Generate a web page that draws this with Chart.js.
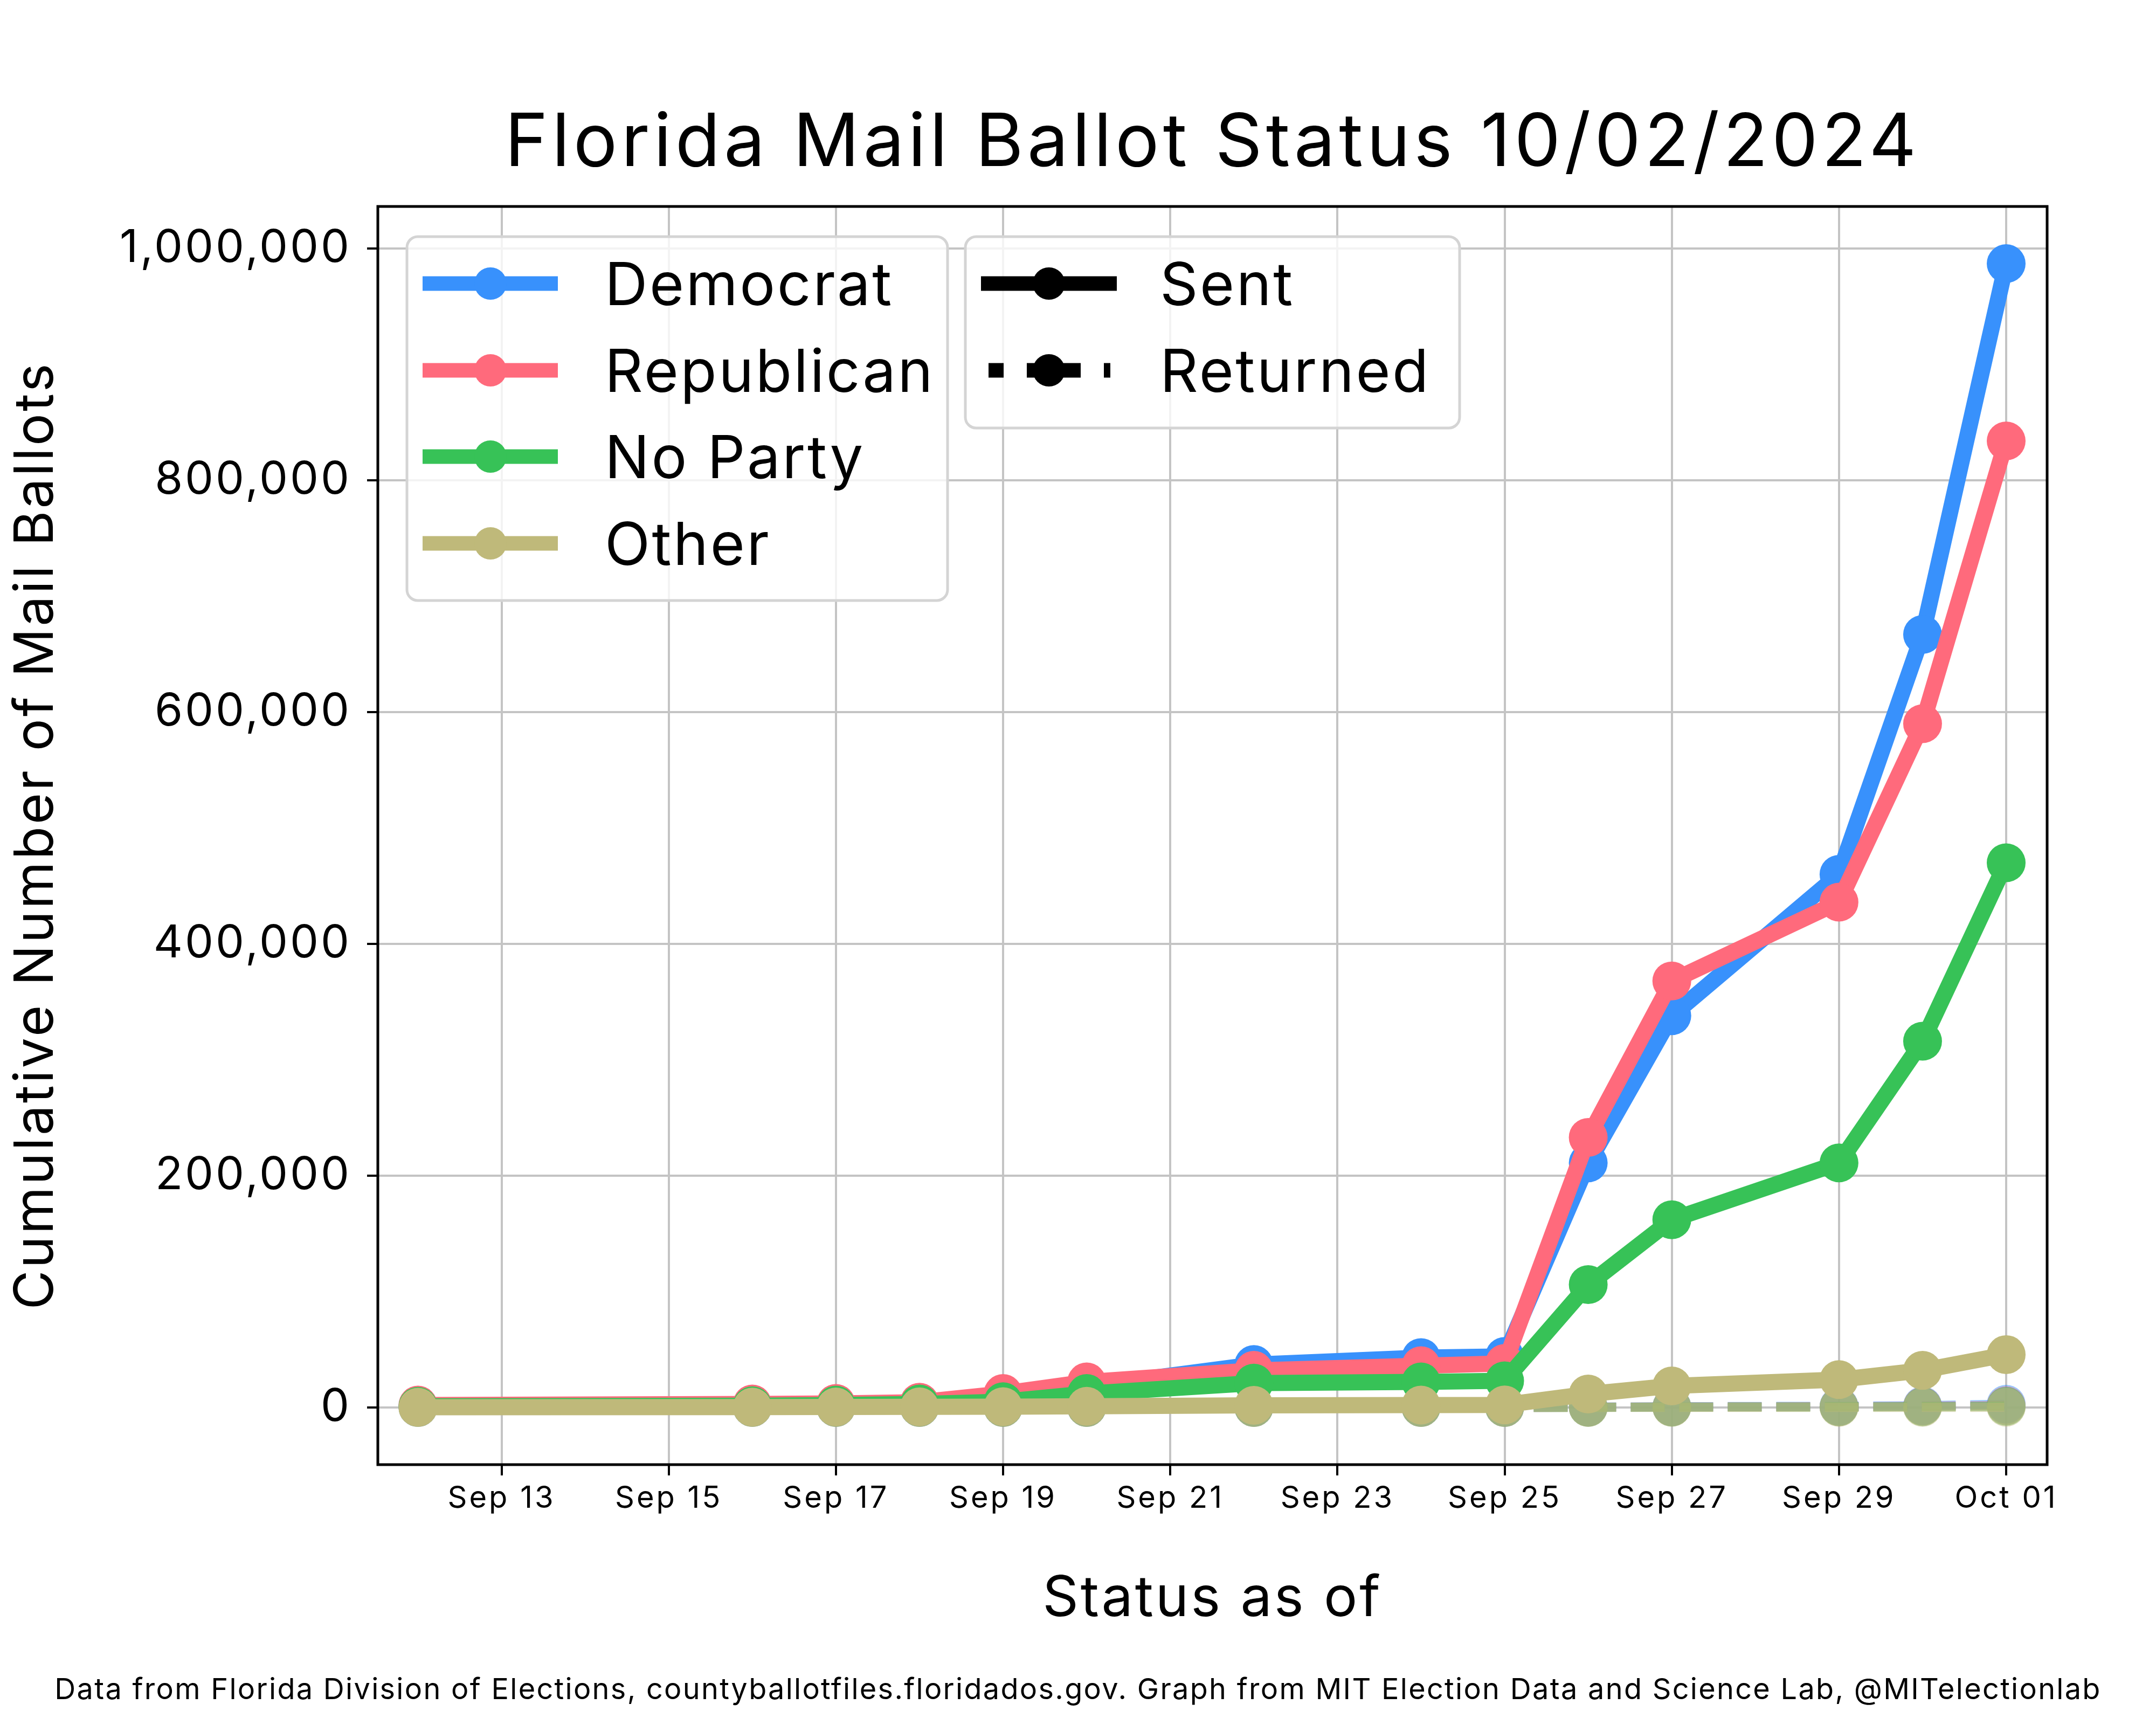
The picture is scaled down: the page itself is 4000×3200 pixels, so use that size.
<!DOCTYPE html>
<html>
<head>
<meta charset="utf-8">
<script src="https://cdn.jsdelivr.net/npm/chart.js@4.4.1/dist/chart.umd.min.js"></script>
<style>
  html, body { margin: 0; padding: 0; background: #fff; }
  #wrap { width: 4000px; height: 3200px; }
</style>
</head>
<body>
<div id="wrap"><canvas id="ballotChart" width="4000" height="3200"></canvas></div>
<script>
// status dates (one point per file date)
const dates = ['2024-09-12', '2024-09-16', '2024-09-17', '2024-09-18', '2024-09-19', '2024-09-20',
               '2024-09-22', '2024-09-24', '2024-09-25', '2024-09-26', '2024-09-27', '2024-09-29',
               '2024-09-30', '2024-10-01'];

// cumulative ballots sent
const sentDem   = [1500, 2500, 3000, 4000, 10000, 18000, 37000, 43000, 44000, 211000, 338000, 460000, 667000, 987000];
const sentRep   = [2000, 3000, 3500, 4500, 12000, 22000, 32000, 36000, 38000, 233000, 368000, 436000, 590000, 834000];
const sentNpa   = [1000, 1500, 2000, 3000, 5000, 12000, 21000, 22000, 23000, 106000, 162000, 211000, 316000, 470000];
const sentOther = [200, 300, 400, 500, 700, 1000, 1800, 2000, 2200, 11600, 18600, 24000, 32000, 45600];

// cumulative ballots returned
const retDem   = [0, 0, 0, 0, 0, 0, 0, 0, 0, 300, 600, 1000, 1500, 2800];
const retRep   = [0, 0, 0, 0, 0, 0, 0, 0, 0, 200, 400, 700, 1000, 1600];
const retNpa   = [0, 0, 0, 0, 0, 0, 0, 0, 0, 100, 300, 500, 700, 1000];
const retOther = [0, 0, 0, 0, 0, 0, 0, 0, 0, 0, 50, 80, 100, 150];

const partyNames  = ['Democrat', 'Republican', 'No Party', 'Other'];
const partyColors = ['#3891fc', '#ff6a7c', '#37c257', '#bfb97a'];
const statusNames = ['Sent', 'Returned'];

const xTickDates  = ['2024-09-13', '2024-09-15', '2024-09-17', '2024-09-19', '2024-09-21',
                     '2024-09-23', '2024-09-25', '2024-09-27', '2024-09-29', '2024-10-01'];
const xTickLabels = ['Sep 13', 'Sep 15', 'Sep 17', 'Sep 19', 'Sep 21', 'Sep 23', 'Sep 25', 'Sep 27', 'Sep 29', 'Oct 01'];
const yTicks = [0, 200000, 400000, 600000, 800000, 1000000];

const chartTitle = 'Florida Mail Ballot Status 10/02/2024';
const xTitle = 'Status as of';
const yTitle = 'Cumulative Number of Mail Ballots';
const footer = 'Data from Florida Division of Elections, countyballotfiles.floridados.gov. Graph from MIT Election Data and Science Lab, @MITelectionlab';

const FONT = 'Inter';
const DAY = 86400000;
const ORIGIN = Date.UTC(2024, 8, 1);
const toDay = d => (Date.parse(d + 'T00:00:00Z') - ORIGIN) / DAY;

function withAlpha(hex, a) {
    const n = parseInt(hex.slice(1), 16);
    return `rgba(${(n >> 16) & 255}, ${(n >> 8) & 255}, ${n & 255}, ${a})`;
}

const sentSeries = [sentDem, sentRep, sentNpa, sentOther];
const retSeries = [retDem, retRep, retNpa, retOther];

const datasets = [];
partyNames.forEach((name, i) => {
    // returned: dashed, faded, under everything
    datasets.push({
        label: name + ' Returned',
        data: dates.map((d, j) => ({ x: toDay(d), y: retSeries[i][j] })),
        borderColor: withAlpha(partyColors[i], 0.5),
        backgroundColor: withAlpha(partyColors[i], 0.5),
        pointBackgroundColor: withAlpha(partyColors[i], 0.5),
        borderWidth: 17,
        borderDash: [63, 27],
        pointRadius: 36,
        pointBorderWidth: 0,
        tension: 0,
        order: 7 - i
    });
    datasets.push({
        label: name + ' Sent',
        data: dates.map((d, j) => ({ x: toDay(d), y: sentSeries[i][j] })),
        borderColor: partyColors[i],
        backgroundColor: partyColors[i],
        pointBackgroundColor: partyColors[i],
        borderWidth: 30,
        pointRadius: 36,
        pointBorderWidth: 0,
        tension: 0,
        order: 3 - i
    });
});

function legendBox(ctx, x, y, w, h) {
    ctx.save();
    ctx.beginPath();
    ctx.roundRect(x, y, w, h, 20);
    ctx.fillStyle = 'rgba(255,255,255,0.8)';
    ctx.fill();
    ctx.lineWidth = 5;
    ctx.strokeStyle = '#d4d4d4';
    ctx.stroke();
    ctx.restore();
}

function legendEntry(ctx, x0, x1, markerX, y, color, dashed, text, textX) {
    ctx.save();
    ctx.strokeStyle = color;
    ctx.fillStyle = color;
    ctx.lineWidth = 27;
    if (dashed) {
        ctx.setLineDash([100, 43]);
        ctx.lineDashOffset = 72;
    }
    ctx.beginPath();
    ctx.moveTo(x0, y);
    ctx.lineTo(x1, y);
    ctx.stroke();
    ctx.setLineDash([]);
    ctx.beginPath();
    ctx.arc(markerX, y, 30, 0, Math.PI * 2);
    ctx.fill();
    ctx.fillStyle = '#000';
    ctx.font = `110px ${FONT}`;
    ctx.letterSpacing = '3.5px';
    ctx.textAlign = 'left';
    ctx.textBaseline = 'alphabetic';
    ctx.fillText(text, textX, y + 40);
    ctx.restore();
}

const decorations = {
    id: 'decorations',
    beforeDraw(chart) {
        // the reference face is wider than Inter, so open the tracking a little
        chart.ctx.letterSpacing = '4px';
    },
    afterDraw(chart) {
        const ctx = chart.ctx;
        const area = chart.chartArea;

        // axes frame
        ctx.save();
        ctx.strokeStyle = '#000';
        ctx.lineWidth = 5;
        ctx.strokeRect(area.left, area.top, area.right - area.left, area.bottom - area.top);
        ctx.restore();

        // title over the axes, source note under the figure
        ctx.save();
        ctx.fillStyle = '#000';
        ctx.textAlign = 'center';
        ctx.textBaseline = 'alphabetic';
        ctx.font = `136px ${FONT}`;
        ctx.letterSpacing = '7px';
        ctx.fillText(chartTitle, (area.left + area.right) / 2, 308);
        ctx.font = `54px ${FONT}`;
        ctx.letterSpacing = '2.3px';
        ctx.fillText(footer, 2000, 3152);
        ctx.restore();

        // party legend
        legendBox(ctx, 755, 439, 1003, 675);
        const rows = [526, 687, 847, 1008];
        partyNames.forEach((name, i) => {
            legendEntry(ctx, 784, 1035, 910, rows[i], partyColors[i], false, name, 1122);
        });

        // status legend
        legendBox(ctx, 1791, 439, 917, 355);
        legendEntry(ctx, 1820, 2072, 1946, rows[0], '#000', false, statusNames[0], 2152);
        legendEntry(ctx, 1834, 2060, 1946, rows[1], '#000', true, statusNames[1], 2152);
    }
};

Chart.defaults.font.family = FONT;
Chart.defaults.color = '#000';

new Chart(document.getElementById('ballotChart').getContext('2d'), {
    type: 'line',
    data: { datasets: datasets },
    plugins: [decorations],
    options: {
        responsive: false,
        devicePixelRatio: 1,
        animation: false,
        events: [],
        layout: { padding: { top: 383, right: 202, bottom: 0, left: 0 } },
        plugins: {
            legend: { display: false },
            title: { display: false },
            tooltip: { enabled: false }
        },
        scales: {
            x: {
                type: 'linear',
                min: toDay(dates[0]) - 0.48,
                max: toDay(dates[dates.length - 1]) + 0.49,
                afterBuildTicks: scale => { scale.ticks = xTickDates.map(d => ({ value: toDay(d) })); },
                afterFit: scale => { scale.height = 483; },
                ticks: {
                    autoSkip: false,
                    maxRotation: 0,
                    padding: 10,
                    font: { size: 56 },
                    callback: (v, i) => xTickLabels[i]
                },
                grid: { color: '#c4c4c4', lineWidth: 4, tickColor: '#000', tickLength: 20, tickWidth: 4 },
                border: { display: false },
                title: { display: true, text: xTitle, font: { size: 104 }, padding: { top: 0, bottom: 171 } }
            },
            y: {
                type: 'linear',
                min: -49350,
                max: 1036350,
                afterBuildTicks: scale => { scale.ticks = yTicks.map(v => ({ value: v })); },
                afterFit: scale => { scale.width = 701; },
                ticks: {
                    padding: 29,
                    font: { size: 84 },
                    callback: v => v.toLocaleString('en-US')
                },
                grid: { color: '#c4c4c4', lineWidth: 4, tickColor: '#000', tickLength: 20, tickWidth: 4 },
                border: { display: false },
                title: { display: true, text: yTitle, font: { size: 100 }, padding: { top: 8, bottom: 0 } }
            }
        }
    }
});
</script>
</body>
</html>
